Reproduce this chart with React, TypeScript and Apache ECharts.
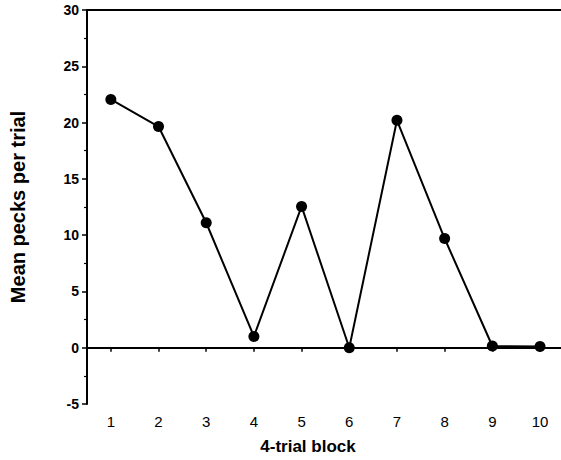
import React, { useEffect, useRef } from "react";
import * as echarts from "echarts";

const blocks = [1, 2, 3, 4, 5, 6, 7, 8, 9, 10];
const meanPecks = [22.05, 19.65, 11.1, 1.0, 12.55, 0.0, 20.2, 9.7, 0.15, 0.1];
const yTicks = [-5, 0, 5, 10, 15, 20, 25, 30];
const xTitle = "4-trial block";
const yTitle = "Mean pecks per trial";

export default function App() {
  const ref = useRef<HTMLDivElement>(null);
  useEffect(() => {
    if (!ref.current) return;
    const chart = echarts.init(ref.current, null, { renderer: "svg" });
    const font = "'Liberation Sans', Arial, Helvetica, sans-serif";
    chart.setOption({
      animation: false,
      backgroundColor: "#ffffff",
      grid: { left: 87, right: 0, top: 10, bottom: 54, containLabel: false },
      xAxis: [
        {
          type: "value",
          min: 0.5,
          max: 10.44,
          name: xTitle,
          nameLocation: "middle",
          nameGap: 34,
          nameTextStyle: {
            fontFamily: font,
            fontWeight: "bold",
            fontSize: 17,
            color: "#000",
            padding: [0, 32, 0, 0],
          },
          axisLine: { show: true, lineStyle: { color: "#000", width: 2 } },
          axisTick: { show: true, length: 4, lineStyle: { color: "#000", width: 1.5 }, customValues: blocks },
          axisLabel: { fontFamily: font, fontSize: 15, color: "#000", margin: 10, customValues: blocks },
          splitLine: { show: false },
        },
        {
          type: "value",
          position: "top",
          min: 0.5,
          max: 10.44,
          axisLine: { show: true, onZero: false, lineStyle: { color: "#000", width: 2 } },
          axisTick: { show: false },
          axisLabel: { show: false },
          splitLine: { show: false },
        },
      ],
      yAxis: {
        type: "value",
        min: yTicks[0],
        max: yTicks[yTicks.length - 1],
        interval: 5,
        name: yTitle,
        nameLocation: "middle",
        nameGap: 59,
        nameTextStyle: { fontFamily: font, fontWeight: "bold", fontSize: 20, color: "#000" },
        axisLine: { show: true, onZero: false, lineStyle: { color: "#000", width: 2 } },
        axisTick: { show: true, length: 5, lineStyle: { color: "#000", width: 1.5 } },
        minorTick: { show: true, splitNumber: 2, length: 3, lineStyle: { color: "#000", width: 1.2 } },
        axisLabel: { fontFamily: font, fontSize: 14, fontWeight: "bold", color: "#000", margin: 8 },
        splitLine: { show: false },
      },
      series: [
        {
          type: "line",
          data: blocks.map((b, i) => [b, meanPecks[i]]),
          symbol: "circle",
          symbolSize: 11,
          itemStyle: { color: "#000" },
          lineStyle: { color: "#000", width: 2 },
        },
      ],
    });
    return () => chart.dispose();
  }, []);
  return (
    <div
      ref={ref}
      style={{ position: "fixed", left: 0, top: 0, width: 561, height: 460, background: "#fff" }}
    />
  );
}
